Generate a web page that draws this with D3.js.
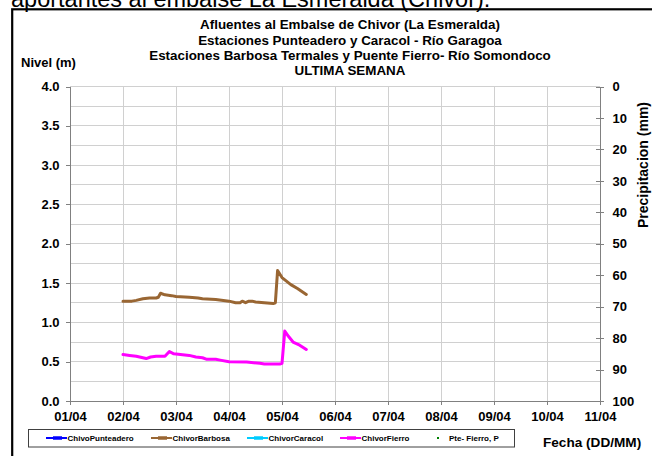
<!DOCTYPE html>
<html>
<head>
<meta charset="utf-8">
<script src="https://cdn.jsdelivr.net/npm/d3@7/dist/d3.min.js"></script>
<style>
  html, body { margin: 0; padding: 0; background: #fff; overflow: hidden; }
  svg { display: block; font-family: "Liberation Sans", Arial, sans-serif; }
  .axis path, .axis line { stroke: #808080; shape-rendering: crispEdges; }
  .axis text { font-weight: bold; fill: #000; }
</style>
</head>
<body>
<svg id="chart" width="652" height="456"></svg>
<script>
// ---- data --------------------------------------------------------------
const titleLines = [
  "Afluentes al Embalse de Chivor (La Esmeralda)",
  "Estaciones Punteadero y Caracol - Río Garagoa",
  "Estaciones Barbosa Termales y Puente Fierro- Río Somondoco",
  "ULTIMA SEMANA"
];
const dayStart = "01/04 00:00";
const dayEnd = "11/04 00:00";
const levelTicks = [0, 0.5, 1, 1.5, 2, 2.5, 3, 3.5, 4];
const levelGrid = d3.range(0.25, 4.01, 0.25);
const rainTicks = [0, 10, 20, 30, 40, 50, 60, 70, 80, 90, 100];

// Nivel (m) por estación: [fecha-hora, nivel]
const chivoPunteadero = [];
const chivorCaracol = [];
const chivorBarbosa = [
  ["02/04 00:00", 1.27], ["02/04 04:00", 1.27], ["02/04 06:00", 1.28],
  ["02/04 09:00", 1.30], ["02/04 12:00", 1.31], ["02/04 15:00", 1.31],
  ["02/04 16:00", 1.32], ["02/04 17:00", 1.37], ["02/04 19:00", 1.35],
  ["02/04 22:00", 1.34], ["03/04 00:00", 1.33], ["03/04 06:00", 1.32],
  ["03/04 10:00", 1.31], ["03/04 12:00", 1.30], ["03/04 18:00", 1.29],
  ["04/04 00:00", 1.27], ["04/04 03:00", 1.25], ["04/04 05:00", 1.25],
  ["04/04 06:00", 1.27], ["04/04 07:30", 1.25], ["04/04 09:00", 1.27],
  ["04/04 10:30", 1.27], ["04/04 12:00", 1.26], ["04/04 16:00", 1.25],
  ["04/04 20:00", 1.24], ["04/04 21:00", 1.25], ["04/04 22:00", 1.66],
  ["05/04 00:00", 1.57], ["05/04 04:00", 1.48], ["05/04 07:00", 1.43],
  ["05/04 11:00", 1.355]
];
const chivorFierro = [
  ["02/04 00:00", 0.59], ["02/04 03:00", 0.58], ["02/04 06:00", 0.57],
  ["02/04 09:00", 0.55], ["02/04 10:30", 0.54], ["02/04 12:30", 0.56],
  ["02/04 15:00", 0.57], ["02/04 19:00", 0.57], ["02/04 21:00", 0.63],
  ["02/04 23:00", 0.60], ["03/04 06:00", 0.58], ["03/04 09:00", 0.56],
  ["03/04 12:00", 0.55], ["03/04 14:00", 0.53], ["03/04 18:00", 0.53],
  ["03/04 20:00", 0.52], ["04/04 00:00", 0.50], ["04/04 08:00", 0.495],
  ["04/04 14:00", 0.48], ["04/04 16:00", 0.47], ["04/04 23:00", 0.47],
  ["05/04 00:00", 0.48], ["05/04 01:15", 0.89], ["05/04 03:00", 0.82],
  ["05/04 05:00", 0.75], ["05/04 08:00", 0.71], ["05/04 11:00", 0.655]
];
// Precipitación Pte. Fierro (mm)
const pteFierroP = [];

const seriesNames = ["ChivoPunteadero", "ChivorBarbosa", "ChivorCaracol", "ChivorFierro"];
const seriesColors = ["#0000ff", "#996633", "#00ccff", "#ff00ff"];
const seriesData = [chivoPunteadero, chivorBarbosa, chivorCaracol, chivorFierro];

// ---- layout ------------------------------------------------------------
const svg = d3.select("#chart");
const parse = d3.timeParse("%d/%m %H:%M");
const plot = { left: 70, right: 600, top: 86.5, bottom: 401 };

const x = d3.scaleTime().domain([parse(dayStart), parse(dayEnd)]).range([plot.left, plot.right]);
const y = d3.scaleLinear().domain([0, 4]).range([plot.bottom, plot.top]);
const yRain = d3.scaleLinear().domain([0, 100]).range([plot.top, plot.bottom]);

// heading text cut by the page top
svg.append("text")
  .attr("x", 11).attr("y", 6.5)
  .style("font-size", "23.5px")
  .text("aportantes al embalse La Esmeralda (Chivor).");

// outer frame
svg.append("rect")
  .attr("x", 12.2).attr("y", 9.3)
  .attr("width", 700).attr("height", 500)
  .attr("fill", "none").attr("stroke", "#000").attr("stroke-width", 2.2);

// grid
const grid = svg.append("g").attr("stroke", "#d0d0d0").attr("shape-rendering", "crispEdges");
grid.selectAll("line.h").data(levelGrid).join("line")
  .attr("x1", plot.left).attr("x2", plot.right)
  .attr("y1", d => y(d)).attr("y2", d => y(d));
grid.selectAll("line.v").data(x.ticks(d3.timeDay.every(1))).join("line")
  .attr("x1", d => x(d)).attr("x2", d => x(d))
  .attr("y1", plot.top).attr("y2", plot.bottom);

// axes
const axL = svg.append("g").attr("class", "axis")
  .attr("transform", `translate(${plot.left},0)`)
  .call(d3.axisLeft(y).tickValues(levelTicks).tickFormat(d3.format(".1f"))
    .tickSizeInner(4).tickSizeOuter(0).tickPadding(6.5));
axL.selectAll("text").style("font-size", "13px");

const axR = svg.append("g").attr("class", "axis")
  .attr("transform", `translate(${plot.right},0)`)
  .call(d3.axisRight(yRain).tickValues(rainTicks)
    .tickSizeInner(4).tickSizeOuter(0).tickPadding(8.5));
axR.selectAll(".tick line").attr("x1", -4);
axR.selectAll("text").style("font-size", "13px");

const axB = svg.append("g").attr("class", "axis")
  .attr("transform", `translate(0,${plot.bottom})`)
  .call(d3.axisBottom(x).ticks(d3.timeDay.every(1)).tickFormat(d3.timeFormat("%d/%m"))
    .tickSizeInner(4).tickSizeOuter(0).tickPadding(6.3));
axB.selectAll("text").style("font-size", "13px");

// series
const line = d3.line()
  .x(d => x(parse(d[0])))
  .y(d => y(d[1]));
seriesData.forEach((data, i) => {
  if (!data.length) return;
  svg.append("path")
    .datum(data)
    .attr("fill", "none")
    .attr("stroke", seriesColors[i])
    .attr("stroke-width", 3)
    .attr("stroke-linejoin", "round")
    .attr("stroke-linecap", "round")
    .attr("d", line);
});
svg.append("g").selectAll("rect").data(pteFierroP).join("rect")
  .attr("x", d => x(parse(d[0])) - 1).attr("y", d => yRain(d[1]) - 1)
  .attr("width", 2).attr("height", 2).attr("fill", "#008000");

// titles
const title = svg.append("text")
  .attr("text-anchor", "middle")
  .style("font-size", "13.4px").style("font-weight", "bold");
titleLines.forEach((t, i) => {
  title.append("tspan").attr("x", 350).attr("y", 29.3 + i * 15.2).text(t);
});

svg.append("text")
  .attr("x", 21).attr("y", 66.7)
  .style("font-size", "13px").style("font-weight", "bold")
  .text("Nivel (m)");

svg.append("text")
  .attr("transform", "translate(647.5,165) rotate(-90)")
  .attr("text-anchor", "middle")
  .style("font-size", "14px").style("font-weight", "bold")
  .text("Precipitacion (mm)");

svg.append("text")
  .attr("x", 543).attr("y", 447)
  .style("font-size", "13.6px").style("font-weight", "bold")
  .text("Fecha (DD/MM)");

// legend
const legend = svg.append("g");
legend.append("rect")
  .attr("x", 28.5).attr("y", 429.5).attr("width", 486).attr("height", 17.5)
  .attr("fill", "#fff").attr("stroke", "#404040").attr("stroke-width", 1);
const legendX = [46, 151, 247, 340];
seriesNames.forEach((name, i) => {
  const lx = legendX[i];
  legend.append("line")
    .attr("x1", lx).attr("x2", lx + 21).attr("y1", 438).attr("y2", 438)
    .attr("stroke", seriesColors[i]).attr("stroke-width", 2);
  legend.append("line")
    .attr("x1", lx + 7).attr("x2", lx + 16).attr("y1", 438).attr("y2", 438)
    .attr("stroke", seriesColors[i]).attr("stroke-width", 3.5);
  legend.append("text")
    .attr("x", lx + 21.5).attr("y", 441)
    .style("font-size", "8px").style("font-weight", "bold")
    .text(name);
});
legend.append("rect")
  .attr("x", 437).attr("y", 437).attr("width", 2).attr("height", 2)
  .attr("fill", "#008000");
legend.append("text")
  .attr("x", 449).attr("y", 441)
  .style("font-size", "8px").style("font-weight", "bold")
  .text("Pte- Fierro, P");
</script>
</body>
</html>
